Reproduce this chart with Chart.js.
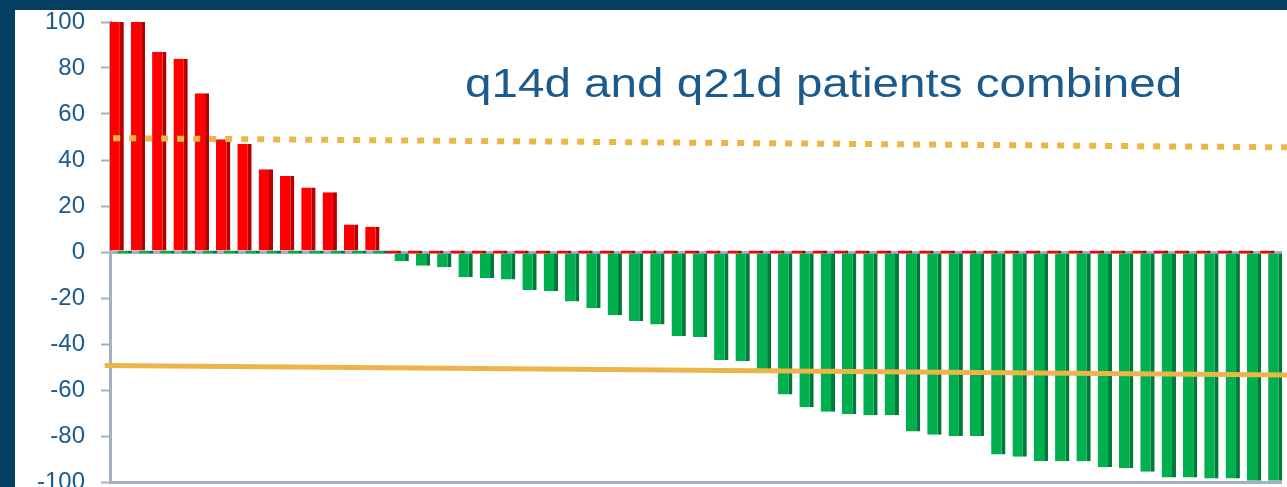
<!DOCTYPE html>
<html lang="en">

<head>
    <meta charset="UTF-8">
    <meta name="viewport" content="width=device-width, initial-scale=1.0">
    <title>Waterfall - q14d and q21d patients combined</title>
    <script src="https://cdnjs.cloudflare.com/ajax/libs/Chart.js/4.4.1/chart.umd.min.js"></script>
    <style>
        html, body {
            margin: 0;
            width: 1287px;
            height: 487px;
            overflow: hidden;
            background: #043f62;
            font-family: "Liberation Sans", Arial, sans-serif;
        }

        .panel {
            position: absolute;
            left: 15px;
            top: 10px;
            width: 1272px;
            height: 484px;
            background: #ffffff;
        }

        .heading {
            position: absolute;
            left: 465px;
            top: 63px;
            font-size: 40px;
            line-height: 40px;
            color: #1a5a8c;
            white-space: nowrap;
            transform: scaleX(1.19);
            transform-origin: left top;
        }
    </style>
</head>

<body>
    <div class="panel">
        <canvas id="waterfall"></canvas>
    </div>
    <div class="heading">q14d and q21d patients combined</div>

    <script>
        // one category per patient
        const patients = ['1', '2', '3', '4', '5', '6', '7', '8', '9', '10',
            '11', '12', '13', '14', '15', '16', '17', '18', '19', '20',
            '21', '22', '23', '24', '25', '26', '27', '28', '29', '30',
            '31', '32', '33', '34', '35', '36', '37', '38', '39', '40',
            '41', '42', '43', '44', '45', '46', '47', '48', '49', '50',
            '51', '52', '53', '54', '55'];

        // % change from baseline, growth (red)
        const increase = [100, 100, 87, 84, 69, 49, 47, 36, 33, 28, 26, 12, 11,
            0, 0, 0, 0, 0, 0, 0, 0, 0, 0, 0, 0, 0, 0, 0, 0, 0, 0, 0, 0, 0, 0, 0,
            0, 0, 0, 0, 0, 0, 0, 0, 0, 0, 0, 0, 0, 0, 0, 0, 0, 0, 0];

        // % change from baseline, shrinkage (green)
        const decrease = [0, 0, 0, 0, 0, 0, 0, 0, 0, 0, 0, 0, 0,
            -4, -6, -6.6, -11, -11.3, -12, -16.5, -17, -21.5, -24.5, -27.5,
            -30, -31.5, -36.5, -37, -47, -47.5, -52, -62, -67.5, -69.5,
            -70.5, -71, -71, -78, -79.5, -80, -80, -88, -89, -91, -91, -91,
            -93.5, -94, -95.5, -98, -98, -98.5, -98.5, -99.5, -99.5];

        // threshold lines, x in patient units (0 = left edge, 55 = right edge)
        const progressionX = [0.15, 55.25];
        const progressionY = [49.5, 45.5];
        const responseX = [-0.25, 55.25];
        const responseY = [-49.4, -53.5];

        const yTicks = { min: -100, max: 100, step: 20 };

        const axisGrey = '#a7b0c3';
        const lineOrange = '#ebb54a';

        // threshold lines drawn on top of the bars through the xr / y scales
        const thresholdLines = {
            id: 'thresholdLines',
            afterDatasetsDraw(chart) {
                const ctx = chart.ctx;
                const xr = chart.scales.xr;
                const y = chart.scales.y;

                function stroke(xs, ys, width, dash) {
                    ctx.save();
                    ctx.strokeStyle = lineOrange;
                    ctx.lineWidth = width;
                    ctx.lineCap = 'butt';
                    ctx.setLineDash(dash);
                    ctx.beginPath();
                    xs.forEach((x, i) => {
                        let px = xr.getPixelForValue(x);
                        let py = y.getPixelForValue(ys[i]);
                        if (i === 0) ctx.moveTo(px, py);
                        else ctx.lineTo(px, py);
                    });
                    ctx.stroke();
                    ctx.restore();
                }

                stroke(progressionX, progressionY, 6, [7, 9]);
                stroke(responseX, responseY, 5, []);
            }
        };

        let ctx = document.getElementById('waterfall').getContext('2d');
        let waterfall = new Chart(ctx, {
            type: 'bar',
            data: {
                labels: patients,
                datasets: [{
                    label: 'Increase',
                    data: increase,
                    backgroundColor: '#ff0000',
                    borderColor: '#b40000',
                    borderWidth: { top: 0, right: 4, bottom: 0, left: 0 },
                    minBarLength: 3,
                    categoryPercentage: 0.75,
                    barPercentage: 1.8
                }, {
                    label: 'Decrease',
                    data: decrease,
                    backgroundColor: '#00b04f',
                    borderColor: '#007a37',
                    borderWidth: { top: 0, right: 4, bottom: 0, left: 0 },
                    minBarLength: 3,
                    categoryPercentage: 0.75,
                    barPercentage: 1.8
                }]
            },
            options: {
                responsive: true,
                maintainAspectRatio: false,
                animation: false,
                layout: {
                    padding: { top: 12, right: 5, bottom: 12, left: 0 }
                },
                plugins: {
                    legend: { display: false },
                    tooltip: { enabled: false }
                },
                scales: {
                    x: {
                        type: 'category',
                        display: false
                    },
                    xr: {
                        type: 'linear',
                        display: false,
                        offset: false,
                        min: 0,
                        max: patients.length
                    },
                    y: {
                        min: yTicks.min,
                        max: yTicks.max,
                        afterFit: function (scale) {
                            scale.width = 95;
                            // tick padding is horizontal only here
                            scale.paddingTop = 0;
                            scale.paddingBottom = 0;
                        },
                        border: { display: true, color: axisGrey, width: 3 },
                        grid: {
                            color: function (c) {
                                let v = c.tick.value;
                                return (v === 0 || v === yTicks.min) ? axisGrey : 'rgba(0,0,0,0)';
                            },
                            lineWidth: 3,
                            tickColor: axisGrey,
                            tickLength: 9,
                            tickWidth: 2
                        },
                        ticks: {
                            stepSize: yTicks.step,
                            padding: 16,
                            color: '#1a5a8c',
                            font: {
                                family: '"Liberation Sans", Arial, sans-serif',
                                size: 24,
                                lineHeight: 1
                            }
                        }
                    }
                }
            },
            plugins: [thresholdLines]
        });
    </script>
</body>

</html>
